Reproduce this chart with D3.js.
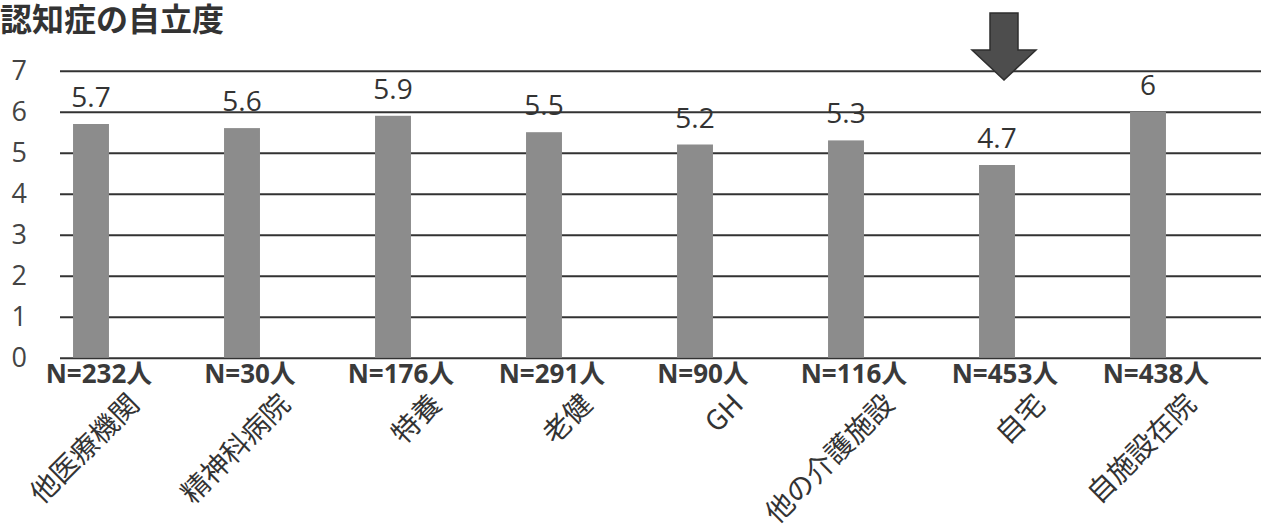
<!DOCTYPE html>
<html>
<head>
<meta charset="utf-8">
<script src="https://cdn.jsdelivr.net/npm/d3@7"></script>
<style>
  body { margin: 0; background: #fff; }
  .title { font-family: "Noto Sans CJK JP", sans-serif; font-weight: bold; }
  .num { font-family: "Open Sans", "Noto Sans CJK JP", sans-serif; }
  .axis .domain { display: none; }
</style>
</head>
<body>
<script>
var categories = ["他医療機関", "精神科病院", "特養", "老健", "GH", "他の介護施設", "自宅", "自施設在院"];
var values = [5.7, 5.6, 5.9, 5.5, 5.2, 5.3, 4.7, 6];
var counts = ["N=232人", "N=30人", "N=176人", "N=291人", "N=90人", "N=116人", "N=453人", "N=438人"];
var yTicks = [0, 1, 2, 3, 4, 5, 6, 7];
var highlight = "自宅";

var width = 1261, height = 525;
var gridLeft = 60, gridRight = 1261;

var data = categories.map(function(c, i) {
  return {cat: c, value: values[i], n: counts[i]};
});

var svg = d3.select("body").append("svg")
    .attr("width", width)
    .attr("height", height);

var x = d3.scaleBand()
    .domain(categories)
    .range([15.5, 1223.5])
    .paddingInner(0.762)
    .paddingOuter(0.381);

var y = d3.scaleLinear()
    .domain([0, 7])
    .range([357.7, 70.7]);

svg.append("text")
    .attr("class", "title")
    .attr("x", 0)
    .attr("y", 31)
    .style("font-size", "32px")
    .style("fill", "#333")
    .text("認知症の自立度");

// gridlines + y labels
var yAxis = d3.axisLeft(y)
    .tickValues(yTicks)
    .tickFormat(d3.format("d"))
    .tickSizeInner(-(gridRight - gridLeft))
    .tickSizeOuter(0)
    .tickPadding(33);

var gy = svg.append("g")
    .attr("class", "axis")
    .attr("transform", "translate(" + gridLeft + ",0)")
    .call(yAxis);

gy.selectAll(".tick line")
    .attr("stroke", "#333")
    .attr("stroke-width", 2);

gy.selectAll(".tick text")
    .attr("class", "num")
    .style("font-size", "27px")
    .style("fill", "#444");

svg.selectAll(".bar")
    .data(data)
  .enter().append("rect")
    .attr("class", "bar")
    .attr("x", function(d) { return x(d.cat); })
    .attr("width", x.bandwidth())
    .attr("y", function(d) { return y(d.value); })
    .attr("height", function(d) { return y(0) - y(d.value); })
    .attr("fill", "#8c8c8c");

svg.selectAll(".val")
    .data(data)
  .enter().append("text")
    .attr("class", "num val")
    .attr("x", function(d) { return x(d.cat) + x.bandwidth() / 2; })
    .attr("y", function(d) { return y(d.value) - 17; })
    .attr("text-anchor", "middle")
    .style("font-size", "28px")
    .style("fill", "#333")
    .text(function(d) { return d.value; });

svg.selectAll(".cnt")
    .data(data)
  .enter().append("text")
    .attr("class", "num cnt")
    .attr("x", function(d) { return x(d.cat) + x.bandwidth() / 2 + 8; })
    .attr("y", 383)
    .attr("text-anchor", "middle")
    .style("font-size", "26px")
    .style("font-weight", "bold")
    .style("fill", "#3a3a3a")
    .text(function(d) { return d.n; });

svg.selectAll(".cat")
    .data(data)
  .enter().append("text")
    .attr("class", "title cat")
    .attr("transform", function(d) {
      return "translate(" + (x(d.cat) + x.bandwidth() / 2 + 50) + ",406) rotate(-45)";
    })
    .attr("text-anchor", "end")
    .style("font-size", "28px")
    .style("font-weight", "normal")
    .style("fill", "#333")
    .text(function(d) { return d.cat; });

// arrow over the highlighted bar
var ax = x(highlight) + x.bandwidth() / 2 + 7;
var arrow = [[-14, 13], [14, 13], [14, 50], [32, 50], [0, 80], [-32, 50], [-14, 50]];
svg.append("path")
    .attr("d", d3.line()(arrow.map(function(p) { return [ax + p[0], p[1]]; })) + "Z")
    .attr("fill", "#4d4d4d")
    .attr("stroke", "#2e2e2e")
    .attr("stroke-width", 1.5);
</script>
</body>
</html>
